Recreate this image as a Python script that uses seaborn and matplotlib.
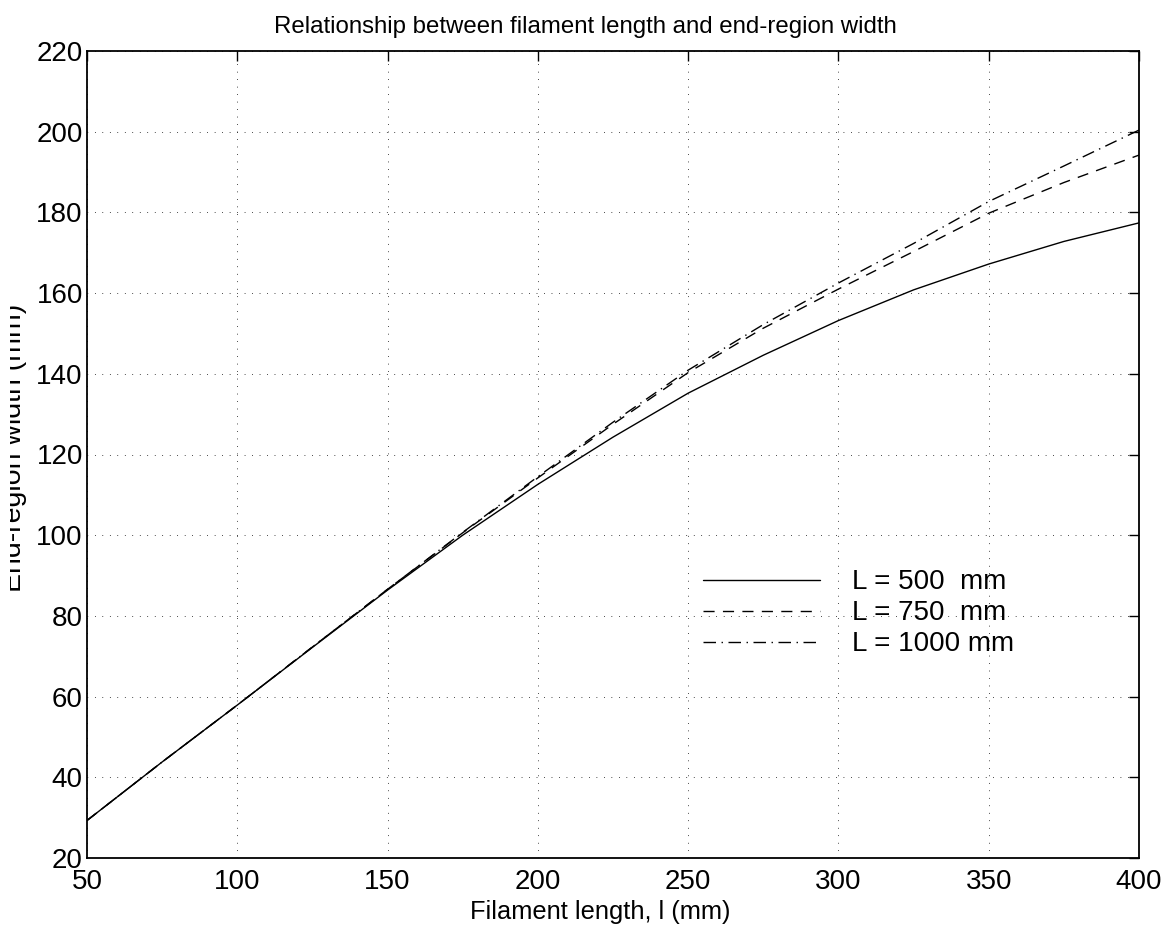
import numpy as np
import pandas as pd
import seaborn as sns
import matplotlib.pyplot as plt
from matplotlib.transforms import Bbox, TransformedBbox

# data
filament_length = [50, 75, 100, 125, 150, 175, 200, 225, 250, 275, 300, 325, 350, 375, 400]
width_L500 = [29.3, 43.8, 57.9, 72.2, 86.4, 100.0, 112.6, 124.3, 135.2, 144.6, 153.2, 160.8, 167.2, 172.8, 177.4]
width_L750 = [29.3, 43.8, 57.9, 72.3, 86.6, 100.6, 114.2, 127.5, 140.3, 151.3, 161.0, 170.3, 179.8, 187.4, 194.2]
width_L1000 = [29.3, 43.8, 57.9, 72.3, 86.6, 100.7, 114.5, 128.0, 140.9, 152.2, 162.5, 172.3, 182.7, 191.5, 200.4]
series_labels = ['L = 500  mm', 'L = 750  mm', 'L = 1000 mm']

df = pd.DataFrame({
    'l': filament_length * 3,
    'w': width_L500 + width_L750 + width_L1000,
    'case': sum([[s] * len(filament_length) for s in series_labels], []),
})

sns.set_style('white')
plt.rcParams['font.family'] = ['Liberation Sans', 'DejaVu Sans']
plt.rcParams['text.color'] = 'black'
plt.rcParams['axes.labelcolor'] = 'black'
plt.rcParams['xtick.color'] = 'black'
plt.rcParams['ytick.color'] = 'black'

fig = plt.figure(figsize=(11.69, 9.26), dpi=100)
ax = fig.add_axes([87 / 1169, 1 - 858 / 926, 1052 / 1169, 807 / 926])

# 三条曲线
styles = {'L = 500  mm': '-', 'L = 750  mm': (0, (8, 6)), 'L = 1000 mm': (0, (9, 4, 1, 4))}
for lab in series_labels:
    sub = df[df['case'] == lab]
    sns.lineplot(data=sub, x='l', y='w', ax=ax, color='black', lw=1.0,
                 linestyle=styles[lab], label=lab)

ax.set_xlim(50, 400)
ax.set_ylim(20, 220)
ax.set_xticks(np.arange(50, 401, 50))
ax.set_yticks(np.arange(20, 221, 20))
ax.grid(True, color='black', linestyle=(0, (0.7, 7)), lw=0.7)
ax.tick_params(direction='in', top=True, right=True, length=7, width=1,
               labelsize=20)
ax.tick_params(axis='x', pad=8)
ax.tick_params(axis='y', pad=3)
for sp in ax.spines.values():
    sp.set_color('black')
    sp.set_linewidth(1.3)

ax.set_title('Relationship between filament length and end-region width',
             fontsize=17.3, x=0.474, pad=13)
ax.set_xlabel('Filament length, l (mm)', fontsize=18.3)
ax.xaxis.set_label_coords(0.488, -0.0525)
ax.set_ylabel('End-region width (mm)', fontsize=20.5)
ax.yaxis.set_label_coords(-0.0566, 0.508)
# the original image cuts off the left edge of the y label
ax.yaxis.label.set_clip_box(TransformedBbox(Bbox([[10 / 1169, 0], [1, 1]]), fig.transFigure))
ax.yaxis.label.set_clip_on(True)

leg = ax.legend(loc='upper left', bbox_to_anchor=(0.5726, 0.375), frameon=False,
                fontsize=20, handlelength=4.2, handletextpad=1.15,
                labelspacing=0.18, borderpad=0)

fig.savefig('out.png', dpi=100)
